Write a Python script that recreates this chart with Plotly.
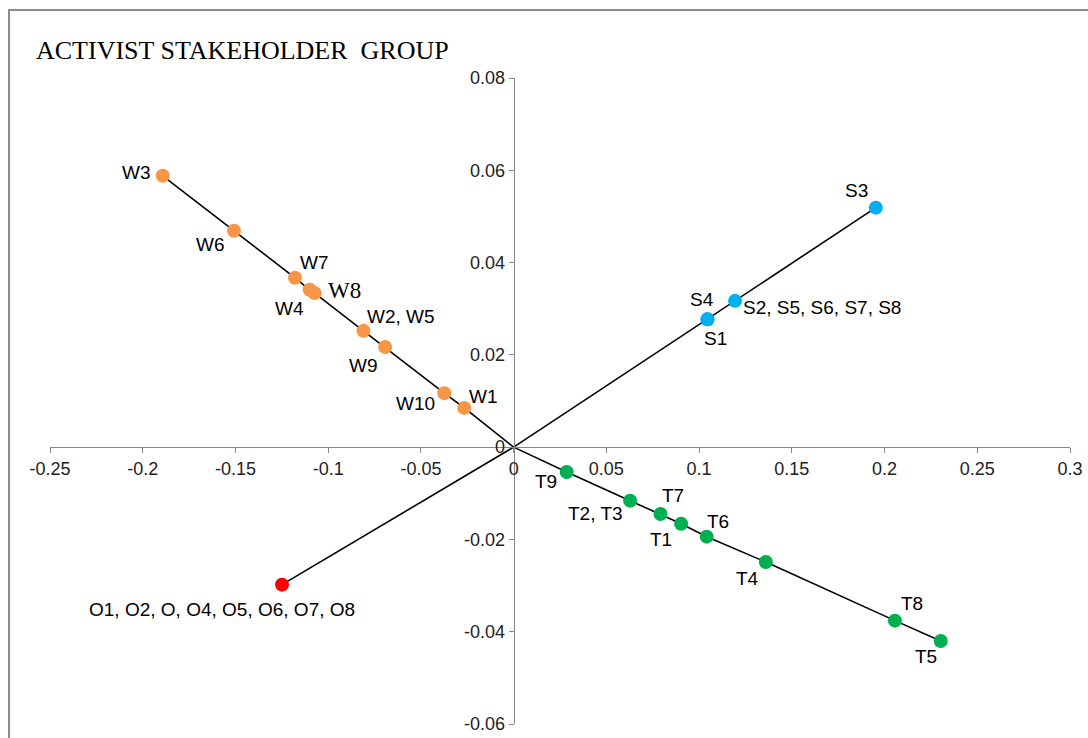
import plotly.graph_objects as go

# ---------------- data ----------------
w_labels = ["W3", "W6", "W7", "W4", "W8", "W2, W5", "W9", "W10", "W1"]
w_x = [-0.1892, -0.1508, -0.1179, -0.1100, -0.1073, -0.0810, -0.0693, -0.0374, -0.0266]
w_y = [0.0588, 0.0469, 0.0367, 0.0341, 0.0334, 0.0252, 0.0217, 0.0117, 0.0085]

s_labels = ["S3", "S2, S5, S6, S7, S8", "S4", "S1"]
s_x = [0.1953, 0.1194, 0.1045, 0.1045]
s_y = [0.0519, 0.0317, 0.0277, 0.0277]

t_labels = ["T9", "T2, T3", "T7", "T1", "T6", "T4", "T8", "T5"]
t_x = [0.0286, 0.0628, 0.0792, 0.0903, 0.1041, 0.1360, 0.2056, 0.2303]
t_y = [-0.0054, -0.0116, -0.0145, -0.0166, -0.0194, -0.0249, -0.0376, -0.0420]

o_labels = ["O1, O2, O, O4, O5, O6, O7, O8"]
o_x = [-0.1249]
o_y = [-0.0298]

x_ticks = [-0.25, -0.2, -0.15, -0.1, -0.05, 0, 0.05, 0.1, 0.15, 0.2, 0.25, 0.3]
x_tick_text = ["-0.25", "-0.2", "-0.15", "-0.1", "-0.05", "0", "0.05", "0.1", "0.15", "0.2", "0.25", "0.3"]
y_ticks = [-0.06, -0.04, -0.02, 0, 0.02, 0.04, 0.06, 0.08]
y_tick_text = ["-0.06", "-0.04", "-0.02", "0", "0.02", "0.04", "0.06", "0.08"]

title_text = "ACTIVIST STAKEHOLDER&nbsp; GROUP"

# ---------------- styles (label offsets in px: dx right, dy down) ----------------
w_off = [(-26, -3), (-23, 14), (20, -15), (-20, 19), (30, -3), (38, -14), (-22, 18), (-29, 10), (19, -11)]
s_off = [(-19, -17), (87, 7), (-5, -20), (8, 19)]
t_off = [(-21, 9), (-35, 13), (12, -19), (-20, 16), (11, -15), (-18, 16), (17, -17), (-15, 16)]
o_off = [(-60, 25)]

groups = [
    (w_x, w_y, w_labels, w_off, "#F79646"),
    (s_x, s_y, s_labels, s_off, "#00B0F0"),
    (t_x, t_y, t_labels, t_off, "#00B050"),
    (o_x, o_y, o_labels, o_off, "#FF0000"),
]

XR = [-0.25, 0.3]
YR = [-0.06, 0.08]

fig = go.Figure()
annotations = []
for gx, gy, glab, goff, col in groups:
    order = sorted(range(len(gx)), key=lambda i: gx[i] ** 2 + gy[i] ** 2)
    lx = [0] + [gx[i] for i in order]
    ly = [0] + [gy[i] for i in order]
    fig.add_trace(go.Scatter(x=lx, y=ly, mode="lines",
                             line=dict(color="black", width=1.6),
                             hoverinfo="skip", showlegend=False))
    fig.add_trace(go.Scatter(x=gx, y=gy, mode="markers",
                             marker=dict(color=col, size=14, line=dict(width=0)),
                             showlegend=False))
    for i, lab in enumerate(glab):
        dx, dy = goff[i]
        serif = lab == "W8"
        annotations.append(dict(
            x=gx[i], y=gy[i], xref="x", yref="y", text=lab, showarrow=False,
            xshift=dx, yshift=-dy,
            font=dict(family="Liberation Serif" if serif else "Liberation Sans",
                      size=23 if serif else 19, color="black")))

# title
annotations.append(dict(
    x=-0.0157, y=1.0433, xref="paper", yref="paper", xanchor="left", yanchor="middle",
    text=title_text, showarrow=False,
    font=dict(family="Liberation Serif", size=26, color="black")))

xpos = (0 - YR[0]) / (YR[1] - YR[0])
ypos = (0 - XR[0]) / (XR[1] - XR[0])

axis_common = dict(showgrid=False, zeroline=False, showline=True, automargin=False,
                   linecolor="#868686", linewidth=1, ticks="outside", ticklen=5,
                   tickcolor="#868686", tickwidth=1,
                   tickfont=dict(family="Liberation Sans", size=18, color="#222222"))

fig.update_layout(
    width=1088, height=738,
    margin=dict(l=50, r=18, t=78, b=14, autoexpand=False),
    paper_bgcolor="white", plot_bgcolor="white",
    xaxis=dict(range=XR, tickvals=x_ticks, ticktext=x_tick_text,
               anchor="free", position=xpos, **axis_common),
    yaxis=dict(range=YR, tickvals=y_ticks, ticktext=y_tick_text,
               anchor="free", position=ypos, **axis_common),
    annotations=annotations,
    shapes=[dict(type="rect", xref="paper", yref="paper",
                 x0=-0.0402, x1=1.03, y0=-0.05, y1=1.1053,
                 line=dict(color="#8C8C8C", width=2), layer="below")],
)

fig.write_html("out.html")
